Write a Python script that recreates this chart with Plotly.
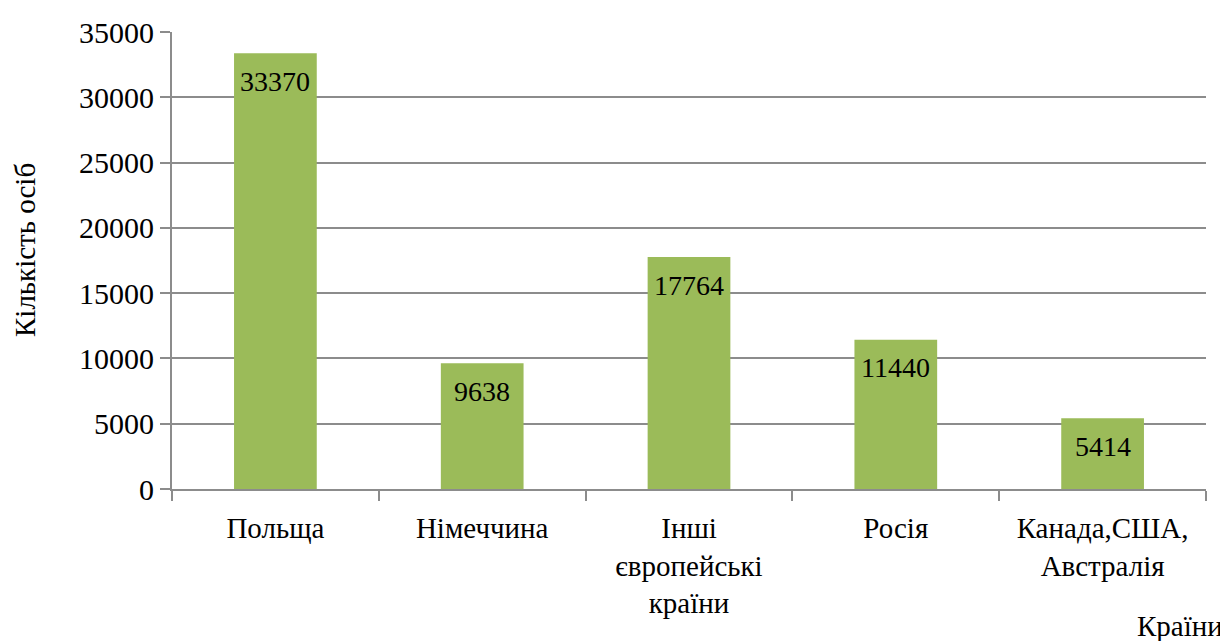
import plotly.graph_objects as go

categories = ["Польща", "Німеччина", "Інші<br>європейські<br>країни", "Росія", "Канада,США,<br>Австралія"]
values = [33370, 9638, 17764, 11440, 5414]
y_ticks = [0, 5000, 10000, 15000, 20000, 25000, 30000, 35000]

FONT = "Liberation Serif"
GRID = "#8c8c8c"

fig = go.Figure()
fig.add_trace(go.Bar(
    x=categories, y=values,
    marker=dict(color="#9bbb59", line=dict(width=0)),
    width=0.4,
    hoverinfo="skip",
))

for c, v in zip(categories, values):
    fig.add_annotation(x=c, y=v, xref="x", yref="y", text=str(v),
                       showarrow=False, yanchor="middle", yshift=-28,
                       font=dict(family=FONT, size=28, color="black"))

fig.add_annotation(text="Кількість осіб", xref="paper", yref="paper",
                   x=-(172 - 25) / 1034, y=(489 - 250) / 457, textangle=-90,
                   showarrow=False, xanchor="center", yanchor="middle",
                   font=dict(family=FONT, size=29, color="black"))
fig.add_annotation(text="Країни", xref="paper", yref="paper",
                   x=(1225 - 172) / 1034, y=-(626 - 489) / 457,
                   showarrow=False, xanchor="right", yanchor="middle",
                   font=dict(family=FONT, size=29, color="black"))

fig.update_layout(
    width=1220, height=633,
    margin=dict(l=164, r=22, t=24, b=152),
    paper_bgcolor="white", plot_bgcolor="white",
    showlegend=False,
    xaxis=dict(
        automargin=False,
        showgrid=False, showline=True, linecolor=GRID, linewidth=2,
        ticks="outside", tickson="boundaries", ticklen=10, tickcolor=GRID, tickwidth=2,
        tickfont=dict(family=FONT, size=29, color="black"),
        ticklabelstandoff=12,
        range=[-0.5, 4.5],
    ),
    yaxis=dict(
        automargin=False,
        range=[0, 35000], tickvals=y_ticks, tickformat="d",
        showgrid=True, gridcolor=GRID, gridwidth=2,
        showline=True, linecolor=GRID, linewidth=2,
        ticks="outside", ticklen=10, tickcolor=GRID, tickwidth=2,
        tickfont=dict(family=FONT, size=30, color="black"),
        zeroline=False,
    ),
)

fig.write_html("out.html")
